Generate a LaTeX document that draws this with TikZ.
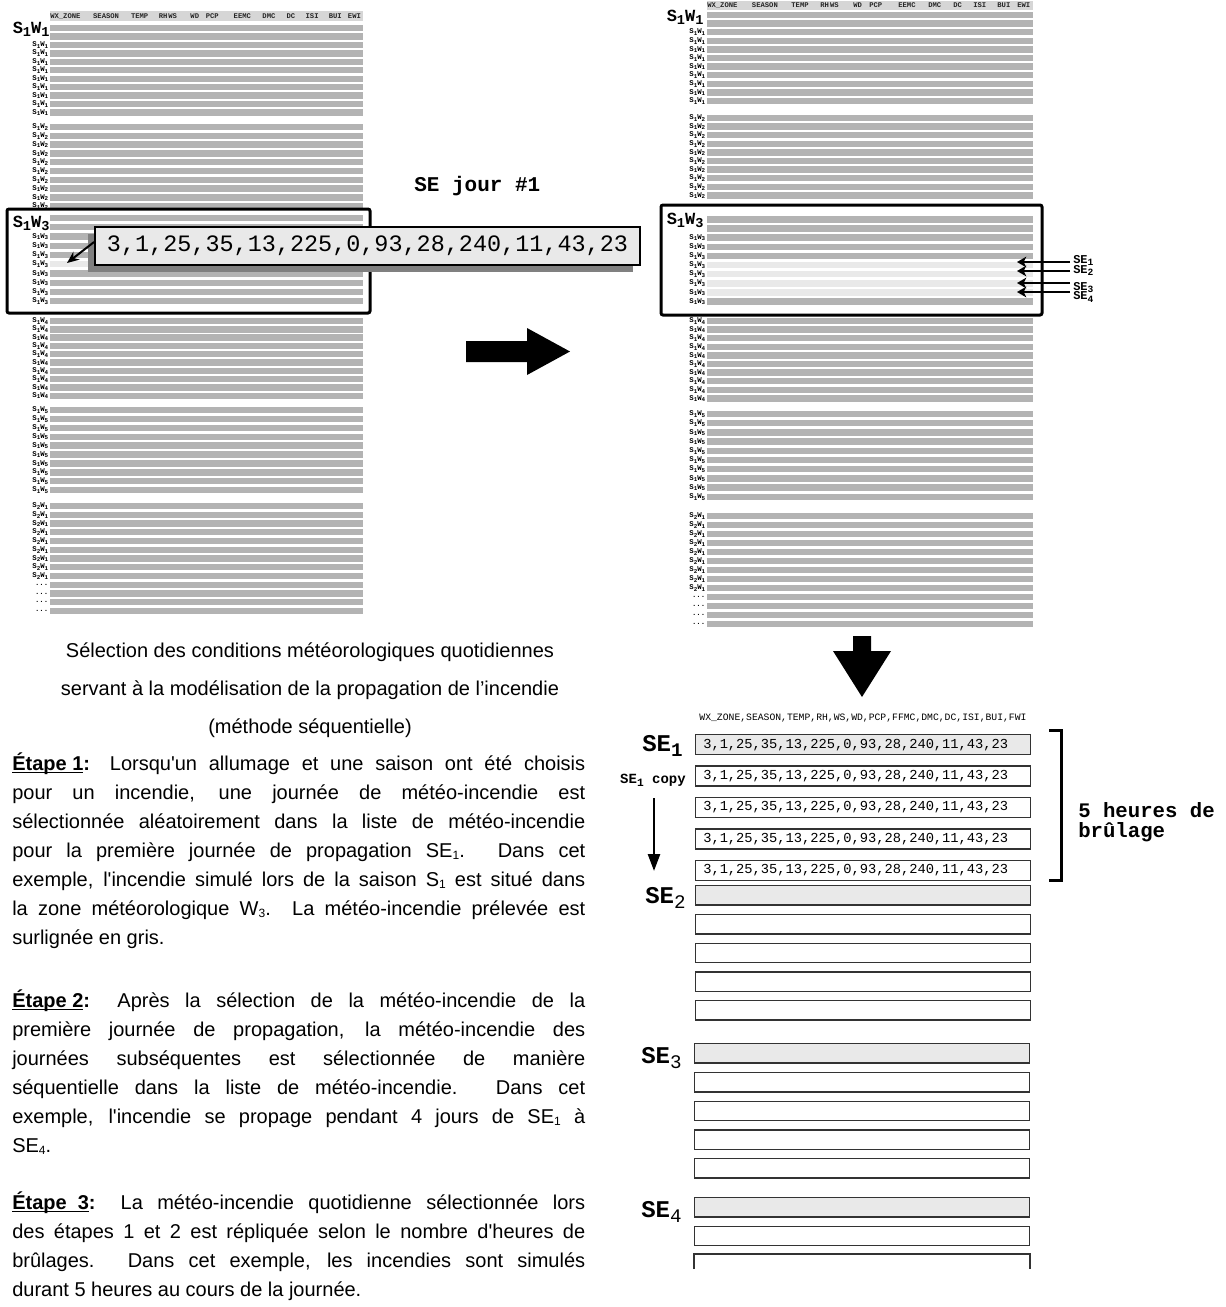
\documentclass[tikz,border=0pt]{standalone}
\usepackage{fontspec}
\usepackage{graphicx}
\setmainfont{Liberation Sans}
\newfontfamily\bodyfont{Liberation Sans}
\newfontfamily\mono{Liberation Mono}
\usetikzlibrary{arrows.meta,shadows}
\definecolor{barg}{HTML}{B3B3B3}
\definecolor{lightg}{HTML}{E9E9E9}
\definecolor{hdrg}{HTML}{D6D6D6}
\definecolor{shadowg}{HTML}{808080}
\newcommand\msub[1]{\raisebox{-0.22em}{\scalebox{0.8}{#1}}}
\newcommand\wsub[1]{\raisebox{-0.12em}{\scalebox{0.6}{#1}}}
\newcommand\myul[1]{\sbox0{#1}\rlap{\rule[-2.4pt]{\wd0}{1.2pt}}\usebox0}
\newlength\jw \setlength\jw{429.75pt}
\newcommand\jline[3]{\node[txt] (#1) at (12,#2) {\hbox to \jw{#3}};}
\newcommand\lline[3]{\node[txt] (#1) at (12,#2) {#3};}
% #1 xL #2 xR #3 start #4 pitch #5 last index #6 label #7 first labelled #8 prefix
\newcommand\grp[8]{%
  \foreach \i in {0,...,#5}{%
    \pgfmathsetmacro\yy{#3+\i*#4}%
    \fill[barg] (#1,\yy-3.2) rectangle (#2,\yy+3.2);%
    \ifnum\i<#7\relax\else\node[rowlab] (#8\i) at (#1-1.5,\yy) {#6};\fi
  }%
}
% #1 prefix #2 xL #3 width #4 y
\newcommand\hdrrow[4]{%
  \foreach \f/\w [count=\k] in {0/WX\_ZONE,0.137/SEASON,0.258/TEMP,0.347/RH,0.377/WS,0.448/WD,0.497/PCP,0.586/EEMC,0.678/DMC,0.755/DC,0.816/ISI,0.89/BUI,0.951/EWI}{%
    \node[hdr] (#1\k) at (#2+\f*#3,#4) {\w};
  }%
}
\begin{document}
\begin{tikzpicture}[x=0.75pt,y=-0.75pt,
  txt/.style={anchor=base west, inner sep=0, font=\bodyfont\fontsize{15}{21}\selectfont},
  ttl/.style={anchor=base, inner sep=0, font=\fontsize{15}{18}\selectfont},
  rowlab/.style={anchor=east, inner sep=0, font=\mono\bfseries\fontsize{5.5}{6}\selectfont},
  hdr/.style={anchor=west, inner sep=0, font=\mono\bfseries\fontsize{5.4}{6}\selectfont, text=black!85},
  biglab/.style={anchor=base west, inner sep=0, font=\mono\bfseries\fontsize{12.75}{14}\selectfont},
  selab/.style={anchor=base west, inner sep=0, font=\mono\bfseries\fontsize{18}{20}\selectfont},
  selsmall/.style={anchor=base west, inner sep=0, font=\mono\bfseries\fontsize{9}{10}\selectfont},
  sebox/.style={draw=black!80, line width=1.1pt, inner sep=0, minimum width=251.25pt, minimum height=14.6pt, anchor=north west},
  rowtxt/.style={anchor=west, inner sep=0, font=\mono\fontsize{10.3}{12}\selectfont},
  selbox/.style={line width=2.25pt, rounded corners=1.5pt},
  sear/.style={line width=1.6pt, -{Stealth[length=7pt,width=8pt,inset=2pt]}},
]
\useasboundingbox (0,0) rectangle (1225,1307);

% ================= LEFT PANEL =================
\fill[hdrg] (50,11) rectangle (363,21);
\hdrrow{LH}{50}{313}{16}
\grp{50}{363}{28}{8.45}{10}{S\msub{1}W\msub{1}}{2}{La}
\node[biglab] (lw1) at (12.5,33) {S\msub{1}W\msub{1}};
\grp{50}{363}{127}{8.8}{9}{S\msub{1}W\msub{2}}{0}{Lb}
\grp{50}{363}{218}{9.25}{9}{S\msub{1}W\msub{3}}{2}{Lc}
\fill[lightg] (50,261) rectangle (363,267.4);
\coordinate (hl) at (67,263);
\draw[selbox] (7,209) rectangle (370,313);
\node[biglab] (lw3) at (12.5,227) {S\msub{1}W\msub{3}};
\grp{50}{363}{321}{8.3}{9}{S\msub{1}W\msub{4}}{0}{Ld}
\grp{50}{363}{410}{8.9}{9}{S\msub{1}W\msub{5}}{0}{Le}
\grp{50}{363}{506}{8.75}{8}{S\msub{2}W\msub{1}}{0}{Lf}
\grp{50}{363}{506+9*8.75}{8.75}{3}{...}{0}{Lg}

% callout
\node[draw=black, line width=1.4pt, fill=lightg, minimum width=408.75pt, minimum height=28.5pt,
      inner sep=0, font=\mono\fontsize{17.6}{20}\selectfont,
      drop shadow={shadow xshift=-5.25pt, shadow yshift=-5.25pt, fill=shadowg, opacity=1}]
      (callout) at (367.5,246) {3,1,25,35,13,225,0,93,28,240,11,43,23};
\draw[line width=1.5pt, -{Stealth[length=9pt,width=7.5pt]}] ([yshift=3pt]callout.west) -- (hl);

\node[anchor=west, inner sep=0, font=\mono\bfseries\fontsize{15.75}{18}\selectfont] (sej) at (414,186) {SE jour \#1};

% big arrow right
\fill (466,341) -- (527,341) -- (527,328) -- (570,351.5) -- (527,375) -- (527,362) -- (466,362) -- cycle;

% ================= RIGHT PANEL =================
\fill[hdrg] (707,1) rectangle (1033,10);
\hdrrow{RH}{707}{326}{5.5}
\grp{707}{1033}{15}{8.6}{10}{S\msub{1}W\msub{1}}{2}{Ra}
\node[biglab] (rw1) at (666.5,21) {S\msub{1}W\msub{1}};
\grp{707}{1033}{118}{8.6}{9}{S\msub{1}W\msub{2}}{0}{Rb}
\grp{707}{1033}{219.3}{9.15}{9}{S\msub{1}W\msub{3}}{2}{Rc}
\foreach \k in {5,...,8}{%
  \pgfmathsetmacro\yy{219.3+\k*9.15}%
  \fill[lightg] (707,\yy-3.2) rectangle (1033,\yy+3.2);
}
\draw[selbox] (661,205) rectangle (1042,315);
\node[biglab] (rw3) at (666.5,224) {S\msub{1}W\msub{3}};
\grp{707}{1033}{321}{8.6}{9}{S\msub{1}W\msub{4}}{0}{Rd}
\grp{707}{1033}{414}{9.2}{9}{S\msub{1}W\msub{5}}{0}{Re}
\grp{707}{1033}{516}{9}{8}{S\msub{2}W\msub{1}}{0}{Rf}
\grp{707}{1033}{516+9*9}{9}{3}{...}{0}{Rg}

% SE arrows
\node[selsmall] (lse1) at (1073,263) {SE\msub{1}};
\node[selsmall] (lse2) at (1073,273) {SE\msub{2}};
\node[selsmall] (lse3) at (1073,290) {SE\msub{3}};
\node[selsmall] (lse4) at (1073,299.5) {SE\msub{4}};
\coordinate (as1) at (1070,262); \coordinate (at1) at (1017,262);
\coordinate (as2) at (1070,271); \coordinate (at2) at (1017,271);
\coordinate (as3) at (1070,283); \coordinate (at3) at (1017,283);
\coordinate (as4) at (1070,292); \coordinate (at4) at (1017,292);
\draw[sear] (as1) -- (at1);
\draw[sear] (as2) -- (at2);
\draw[sear] (as3) -- (at3);
\draw[sear] (as4) -- (at4);

% down arrow
\fill (853,636) -- (871,636) -- (871,651) -- (891,651) -- (862,697) -- (833,651) -- (853,651) -- cycle;

% ================= BOTTOM RIGHT TABLE =================
\node[inner sep=0, font=\mono\fontsize{7.3}{8}\selectfont] (bh) at (863,718) {WX\_ZONE,SEASON,TEMP,RH,WS,WD,PCP,FFMC,DMC,DC,ISI,BUI,FWI};

\node[sebox, minimum height=15pt, fill=lightg] (s1b0) at (695,734) {};
\node[rowtxt] (s1t0) at ([xshift=6pt]s1b0.west) {3,1,25,35,13,225,0,93,28,240,11,43,23};
\foreach \k in {1,...,4}{%
  \pgfmathsetmacro\yt{734+\k*31.4}%
  \node[sebox, minimum height=15pt, fill=white] (s1b\k) at (695,\yt) {};
  \node[rowtxt] (s1t\k) at ([xshift=6pt]s1b\k.west) {3,1,25,35,13,225,0,93,28,240,11,43,23};
}
\node[selab] (se1) at (642,751) {SE\msub{1}};
\node[anchor=base east, inner sep=0, font=\mono\bfseries\fontsize{10.5}{12}\selectfont] (cpy) at (686,783) {SE\msub{1} copy};
\coordinate (cps) at (654,798); \coordinate (cpe) at (654,871);
\draw[line width=1.9pt, -{Triangle[length=12.75pt,width=9pt]}] (cps) -- (cpe);

\draw[line width=2.25pt] (1049,730) -- (1061,730) -- (1061,880) -- (1049,880);
\node[anchor=base west, inner sep=0, font=\mono\bfseries\fontsize{15.5}{16}\selectfont] (hr1) at (1078,817) {5 heures de};
\node[anchor=base west, inner sep=0, font=\mono\bfseries\fontsize{15.5}{16}\selectfont] (hr2) at (1078,837) {brûlage};

% SE2
\node[sebox, fill=lightg] (s2b0) at (695,885) {};
\foreach \k in {1,...,4}{%
  \pgfmathsetmacro\yt{885+\k*28.75}%
  \node[sebox, fill=white] (s2b\k) at (695,\yt) {};
}
\node[selab] (se2) at (645,903) {SE\msub{\mdseries 2}};
% SE3
\node[sebox, fill=lightg] (s3b0) at (694,1043) {};
\foreach \k in {1,...,4}{%
  \pgfmathsetmacro\yt{1043+\k*28.75}%
  \node[sebox, fill=white] (s3b\k) at (694,\yt) {};
}
\node[selab] (se3) at (641,1063) {SE\msub{\mdseries 3}};
% SE4
\node[sebox, fill=lightg] (s4b0) at (694,1197) {};
\node[sebox, fill=white] (s4b1) at (694,1225.5) {};
\draw[draw=black!80, line width=1.1pt] (694,1269) -- (694,1254) -- (1030,1254) -- (1030,1269);
\node[selab] (se4) at (641,1217) {SE\msub{\mdseries 4}};

% ================= TEXT =================
\node[ttl] (ti1) at (310,657) {Sélection des conditions météorologiques quotidiennes};
\node[ttl] (ti2) at (310,695) {servant à la modélisation de la propagation de l’incendie};
\node[ttl] (ti3) at (310,733) {(méthode séquentielle)};

\jline{e1a}{770}{\textbf{\myul{Étape 1}:} Lorsqu'un allumage et une saison ont été choisis}
\jline{e1b}{799}{pour un incendie, une journée de météo-incendie est}
\jline{e1c}{828}{sélectionnée aléatoirement dans la liste de météo-incendie}
\jline{e1d}{857}{pour la première journée de propagation SE\wsub{1}. Dans cet}
\jline{e1e}{886}{exemple, l'incendie simulé lors de la saison S\wsub{1} est situé dans}
\jline{e1f}{915}{la zone météorologique W\wsub{3}. La météo-incendie prélevée est}
\lline{e1g}{944}{surlignée en gris.}

\jline{e2a}{1007}{\textbf{\myul{Étape 2}:} Après la sélection de la météo-incendie de la}
\jline{e2b}{1036}{première journée de propagation, la météo-incendie des}
\jline{e2c}{1065}{journées subséquentes est sélectionnée de manière}
\jline{e2d}{1094}{séquentielle dans la liste de météo-incendie. Dans cet}
\jline{e2e}{1123}{exemple, l'incendie se propage pendant 4 jours de SE\wsub{1} à}
\lline{e2f}{1152}{SE\wsub{4}.}

\jline{e3a}{1209}{\textbf{\myul{Étape\ \ 3}:} La météo-incendie quotidienne sélectionnée lors}
\jline{e3b}{1238}{des étapes 1 et 2 est répliquée selon le nombre d'heures de}
\jline{e3c}{1267}{brûlages. Dans cet exemple, les incendies sont simulés}
\lline{e3d}{1296}{durant 5 heures au cours de la journée.}
\end{tikzpicture}
\end{document}
